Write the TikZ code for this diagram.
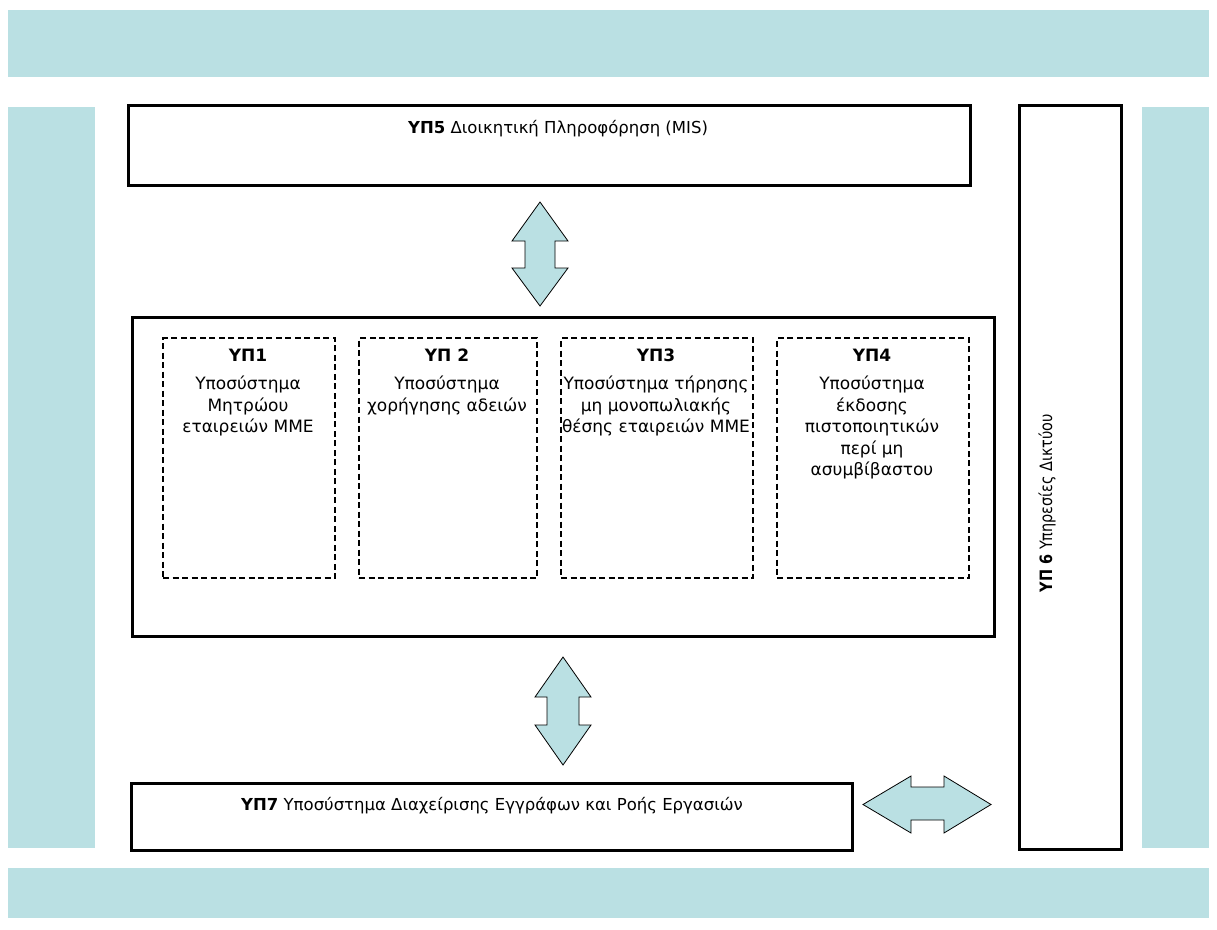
\documentclass[tikz,border=0pt]{standalone}
\usepackage{fontspec}
\setmainfont{DejaVu Sans}
\newfontfamily\condfont[FakeStretch=0.85]{DejaVu Sans}
\definecolor{band}{RGB}{186,224,227}
\tikzset{
  band/.style={fill=band, draw=none},
  solidbox/.style={draw=black, line width=3pt, fill=white, inner sep=0pt},
  dashbox/.style={draw=black, line width=2.2pt, dash pattern=on 6pt off 3.5pt, inner sep=0pt},
  dblarrow/.style={fill=band, draw=black, line width=0.8pt, line join=miter},
  txt/.style={font=\fontsize{16.5}{21.5}\selectfont, inner sep=0pt, align=center},
  bodytxt/.style={font=\fontsize{17}{21.5}\selectfont, inner sep=0pt, align=center},
}
\begin{document}
\begin{tikzpicture}[x=1pt,y=-1pt]
\useasboundingbox (0,0) rectangle (1217,929);
\fill[white] (0,0) rectangle (1217,929);
% background bands
\node[band, minimum width=1201pt, minimum height=67pt, anchor=north west] (topband) at (8,10) {};
\node[band, minimum width=1201pt, minimum height=50pt, anchor=north west] (botband) at (8,868) {};
\node[band, minimum width=87pt, minimum height=741pt, anchor=north west] (leftband) at (8,107) {};
\node[band, minimum width=67pt, minimum height=741pt, anchor=north west] (rightband) at (1142,107) {};
% main boxes
\node[solidbox, minimum width=842pt, minimum height=80pt, anchor=north west] (yp5) at (127,104) {};
\node[txt, anchor=base] (yp5t) at (558,133) {\textbf{ΥΠ5} Διοικητική Πληροφόρηση (MIS)};
\node[solidbox, minimum width=102pt, minimum height=744pt, anchor=north west] (yp6) at (1018,104) {};
\node[txt, rotate=90, anchor=base, font=\condfont\fontsize{17}{20}\selectfont] (yp6t) at (1052,503) {\textbf{ΥΠ 6} Υπηρεσίες Δικτύου};
\node[solidbox, minimum width=862pt, minimum height=319pt, anchor=north west] (core) at (131,316) {};
\node[solidbox, minimum width=721pt, minimum height=67pt, anchor=north west] (yp7) at (130,782) {};
\node[txt, anchor=base] (yp7t) at (492,810) {\textbf{ΥΠ7} Υποσύστημα Διαχείρισης Εγγράφων και Ροής Εργασιών};
% dashed subsystem boxes
\node[dashbox, minimum width=172pt, minimum height=240pt, anchor=north west] (yp1) at (162,337) {};
\node[dashbox, minimum width=178pt, minimum height=240pt, anchor=north west] (yp2) at (358,337) {};
\node[dashbox, minimum width=192pt, minimum height=240pt, anchor=north west] (yp3) at (560,337) {};
\node[dashbox, minimum width=192pt, minimum height=240pt, anchor=north west] (yp4) at (776,337) {};
\node[bodytxt, anchor=base] (yp1h) at (248,361) {\textbf{ΥΠ1}};
\node[bodytxt, anchor=base] (yp2h) at (447,361) {\textbf{ΥΠ 2}};
\node[bodytxt, anchor=base] (yp3h) at (656,361) {\textbf{ΥΠ3}};
\node[bodytxt, anchor=base] (yp4h) at (872,361) {\textbf{ΥΠ4}};
\node[bodytxt, anchor=north] (yp1b) at (248,376) {Υποσύστημα\\Μητρώου\\εταιρειών ΜΜΕ};
\node[bodytxt, anchor=north] (yp2b) at (447,376) {Υποσύστημα\\χορήγησης αδειών};
\node[bodytxt, anchor=north] (yp3b) at (656,376) {Υποσύστημα τήρησης\\μη μονοπωλιακής\\θέσης εταιρειών ΜΜΕ};
\node[bodytxt, anchor=north] (yp4b) at (872,376) {Υποσύστημα\\έκδοσης\\πιστοποιητικών\\περί μη\\ασυμβίβαστου};
% double arrows
\draw[dblarrow] (540,202) -- (568,241) -- (555,241) -- (555,268) -- (568,268) -- (540,306)
  -- (512,268) -- (525,268) -- (525,241) -- (512,241) -- cycle;
\draw[dblarrow] (563,657) -- (591,697) -- (579,697) -- (579,725) -- (591,725) -- (563,765)
  -- (535,725) -- (547,725) -- (547,697) -- (535,697) -- cycle;
\draw[dblarrow] (863,804.5) -- (911,776) -- (911,787) -- (944,787) -- (944,776) -- (991,804.5)
  -- (944,833) -- (944,820) -- (911,820) -- (911,833) -- cycle;
\end{tikzpicture}
\end{document}
